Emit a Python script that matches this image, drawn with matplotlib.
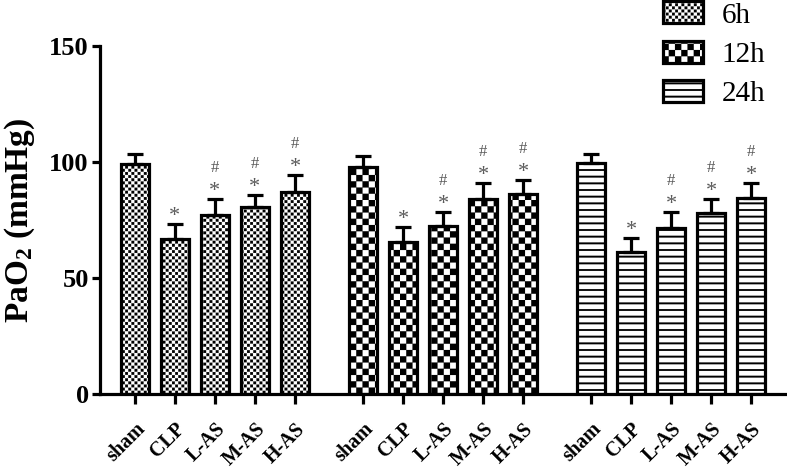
import numpy as np
import matplotlib
matplotlib.use("Agg")
import matplotlib.pyplot as plt
import matplotlib.hatch as mhatch
from matplotlib.path import Path

# data
groups = ['6h', '12h', '24h']
categories = ['sham', 'CLP', 'L-AS', 'M-AS', 'H-AS']
means_6h = [99.0, 67.0, 77.0, 80.5, 87.0]
err_6h = [4.3, 6.2, 7.0, 5.3, 7.4]
means_12h = [98.0, 65.5, 72.5, 84.0, 86.0]
err_12h = [4.5, 6.5, 6.0, 7.0, 6.2]
means_24h = [99.5, 61.0, 71.5, 78.0, 84.5]
err_24h = [3.8, 6.3, 7.0, 6.0, 6.4]
star_marks = [False, True, True, True, True]
hash_marks = [False, False, True, True, True]


# custom fill patterns: fine checker, coarse checker, horizontal stripes
class BlockHatch(mhatch.HatchPatternBase):
    key = None

    def __init__(self, hatch, density):
        self.blocks = self.make_blocks() if (hatch and self.key in hatch) else []
        self.num_vertices = 5 * len(self.blocks)

    def set_vertices_and_codes(self, vertices, codes):
        for k, (x0, y0, w, h) in enumerate(self.blocks):
            vertices[5 * k:5 * k + 5] = [(x0, y0), (x0 + w, y0), (x0 + w, y0 + h),
                                         (x0, y0 + h), (x0, y0)]
            codes[5 * k:5 * k + 5] = [Path.MOVETO, Path.LINETO, Path.LINETO,
                                      Path.LINETO, Path.CLOSEPOLY]


def checker(n, shrink):
    s = 1.0 / n
    d = s * shrink
    return [(i * s + (s - d) / 2, j * s + (s - d) / 2, d, d)
            for i in range(n) for j in range(n) if (i + j) % 2 == 0]


class FineChecker(BlockHatch):
    key = 'o'

    def make_blocks(self):
        return checker(32, 0.88)


class CoarseChecker(BlockHatch):
    key = 'O'

    def make_blocks(self):
        return checker(16, 1.0)


class Stripes(BlockHatch):
    key = '-'

    def make_blocks(self):
        n = 15
        return [(0, (j + 0.5) / n - 0.009, 1, 0.018) for j in range(n)]


mhatch._hatch_types = [FineChecker, CoarseChecker, Stripes]

plt.rcParams['font.family'] = ['Liberation Serif', 'DejaVu Serif']
plt.rcParams['mathtext.fontset'] = 'custom'
plt.rcParams['mathtext.rm'] = 'Liberation Serif:bold'
plt.rcParams['mathtext.it'] = 'Liberation Serif:bold'
plt.rcParams['hatch.linewidth'] = 0.1

fig = plt.figure(figsize=(7.87, 4.73), dpi=100)
ax = fig.add_axes([0.127, 0.167, 0.8705, 0.7357])

all_means = [means_6h, means_12h, means_24h]
all_errs = [err_6h, err_12h, err_24h]
hatches = ['o', 'O', '-']
offsets = [0, 5.7, 11.4]
width = 0.68

xticks = []
xlabels = []
for g, name in enumerate(groups):
    x = np.arange(len(categories)) + offsets[g]
    m = np.array(all_means[g])
    e = np.array(all_errs[g])
    ax.bar(x, m, width, yerr=[np.zeros_like(e), e], color='white', edgecolor='black',
           linewidth=2.3, hatch=hatches[g], label=name,
           error_kw=dict(ecolor='black', elinewidth=2.3, capsize=6, capthick=2.3))
    for i in range(len(categories)):
        top = m[i] + e[i]
        if star_marks[i]:
            ax.text(x[i], top + 3.2, '*', ha='center', va='center', fontsize=16, color='#5a5a5a')
        if hash_marks[i]:
            ax.text(x[i], top + 13.5, '#', ha='center', va='center', fontsize=12, color='#5a5a5a')
    xticks.extend(x)
    xlabels.extend(categories)

ax.set_xlim(-0.875, 16.25)
ax.set_ylim(0, 150)
ax.set_yticks([0, 50, 100, 150])
ax.set_xticks(xticks)
ax.set_xticklabels(xlabels, rotation=45, ha='right', rotation_mode='anchor',
                   fontsize=14.5, fontweight='bold')
for lab in ax.get_yticklabels():
    lab.set_fontweight('bold')
    lab.set_fontsize(19)
ax.tick_params(axis='y', length=6, width=2.3, pad=2)
ax.tick_params(axis='x', length=7, width=2.3, pad=11)
ax.spines['top'].set_visible(False)
ax.spines['right'].set_visible(False)
ax.spines['left'].set_linewidth(2.3)
ax.spines['bottom'].set_linewidth(2.3)
ax.set_ylabel('PaO$_2$ (mmHg)', fontsize=24, fontweight='bold', labelpad=9)

fig.legend(loc='upper left', bbox_to_anchor=(0.843, 0.997), frameon=False, fontsize=21,
           handlelength=1.37, handleheight=0.78, handletextpad=0.62, labelspacing=0.42,
           borderpad=0, borderaxespad=0)

fig.savefig('out.png', dpi=100)
